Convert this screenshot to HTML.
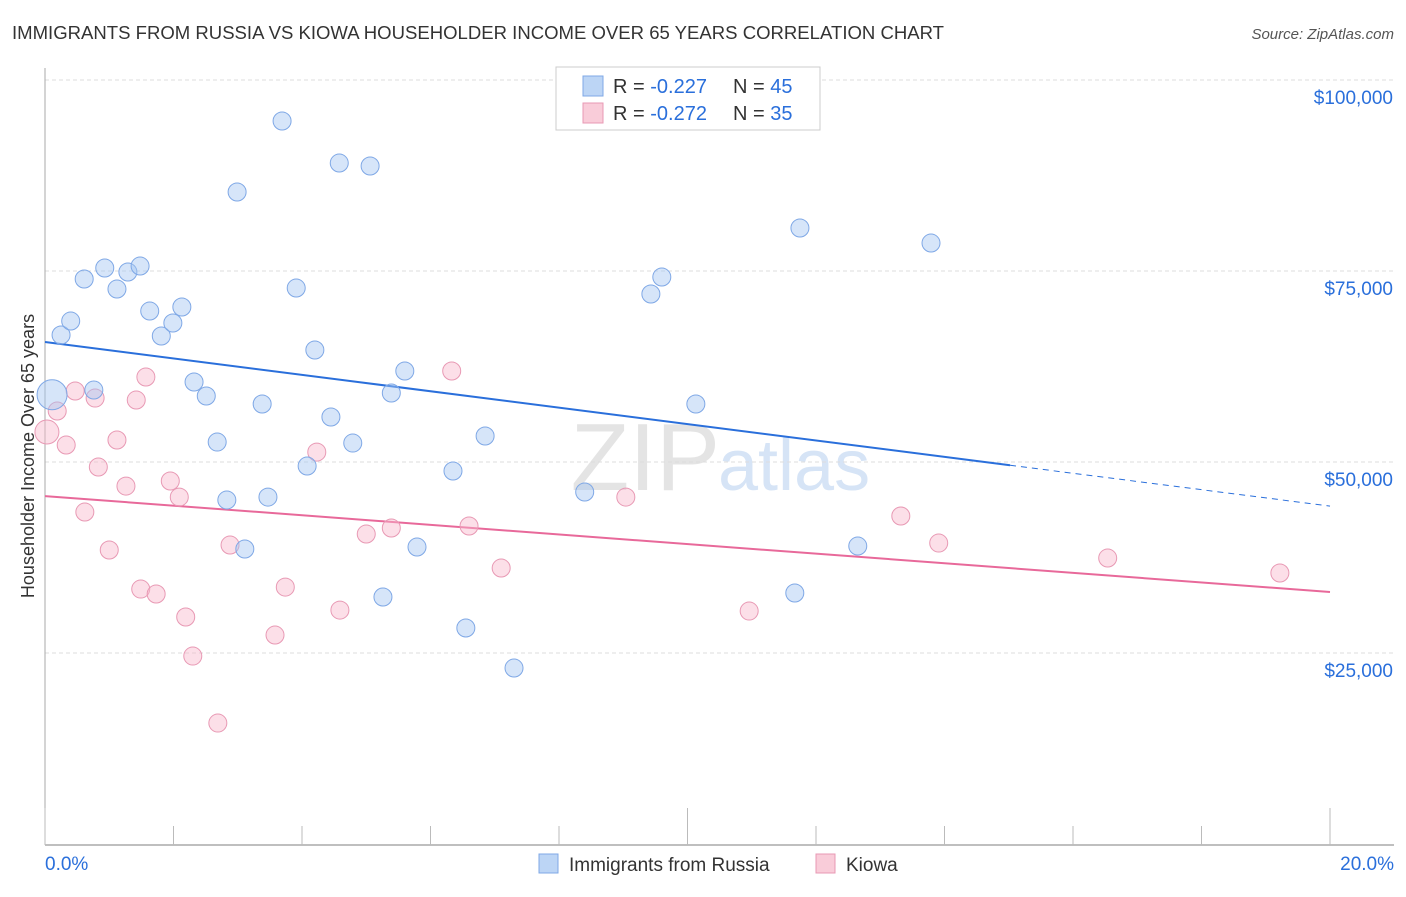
<!DOCTYPE html>
<html><head><meta charset="utf-8"><style>
body{margin:0;background:#fff;font-family:"Liberation Sans",sans-serif;}
svg text{font-family:"Liberation Sans",sans-serif;}
</style></head><body>
<svg id="chart" width="1406" height="892" viewBox="0 0 1406 892">
<text x="12" y="39" font-size="18" fill="#333" textLength="932" lengthAdjust="spacingAndGlyphs">IMMIGRANTS FROM RUSSIA VS KIOWA HOUSEHOLDER INCOME OVER 65 YEARS CORRELATION CHART</text>
<text x="1394" y="39" font-size="15" fill="#555" font-style="italic" text-anchor="end">Source: ZipAtlas.com</text>
<text x="720" y="490" font-size="96" fill="#e4e4e4" text-anchor="end" font-family="Liberation Serif">ZIP</text>
<text x="718" y="490" font-size="72" fill="#d6e4f6">atlas</text>
<text transform="translate(34,456) rotate(-90)" font-size="18" fill="#333" text-anchor="middle">Householder Income Over 65 years</text>
<g id="grid"></g><g id="axes"></g><g id="lines"></g><g id="pts"></g>
<g>
<rect x="556" y="67" width="264" height="63" fill="#fff" stroke="#ccc"/>
<rect x="583" y="76" width="20" height="20" fill="#bcd5f5" stroke="#7fa8e6"/>
<text x="613" y="93" font-size="20" fill="#333">R = <tspan fill="#2a6fdb">-0.227</tspan></text>
<text x="733" y="93" font-size="20" fill="#333">N = <tspan fill="#2a6fdb">45</tspan></text>
<rect x="583" y="103" width="20" height="20" fill="#f9ccd9" stroke="#e899b4"/>
<text x="613" y="120" font-size="20" fill="#333">R = <tspan fill="#2a6fdb">-0.272</tspan></text>
<text x="733" y="120" font-size="20" fill="#333">N = <tspan fill="#2a6fdb">35</tspan></text>
</g>
<g>
<rect x="539" y="854" width="19" height="19" fill="#bcd5f5" stroke="#7fa8e6"/>
<text x="569" y="871" font-size="19" fill="#333">Immigrants from Russia</text>
<rect x="816" y="854" width="19" height="19" fill="#f9ccd9" stroke="#e899b4"/>
<text x="846" y="871" font-size="19" fill="#333">Kiowa</text>
</g>
</svg>
<script>
const yTicks=[25000,50000,75000,100000];
const yTickLabels=["$25,000","$50,000","$75,000","$100,000"];
const xEndLabels=["0.0%","20.0%"];
const russiaX=[0.11,0.25,0.40,0.61,0.76,0.93,1.12,1.29,1.48,1.63,1.81,1.99,2.13,2.32,2.51,2.68,2.83,2.99,3.11,3.38,3.47,3.69,3.91,4.08,4.20,4.45,4.58,4.79,5.06,5.26,5.39,5.60,5.79,6.35,6.55,6.85,7.30,8.40,9.43,9.60,10.13,11.67,11.75,12.65,13.79];
const russiaY=[58800,66620,68450,73950,59420,75390,72640,74870,75650,69760,66490,68190,70290,60470,58640,52610,45020,85340,38610,57590,45410,94630,72770,49470,64660,55890,89130,52480,88740,32330,59030,61910,38870,48820,28270,53400,23030,46070,71990,74210,57590,32850,80630,39000,78660];
const kiowaX=[0.03,0.19,0.33,0.47,0.62,0.78,0.83,1.00,1.12,1.26,1.42,1.49,1.57,1.73,1.95,2.09,2.19,2.30,2.69,2.88,3.58,3.74,4.23,4.59,5.00,5.39,6.33,6.60,7.10,9.04,10.96,13.32,13.91,16.54,19.22];
const kiowaY=[53920,56670,52220,59290,43450,58370,49340,38480,52880,46850,58110,33370,61120,32720,47510,45410,29710,24600,15830,39130,27350,33630,51300,30620,40570,41360,61910,41620,36120,45410,30490,42930,39390,37430,35470];
const russiaTrend=[65700,44230];
const kiowaTrend=[45540,32980];
const russiaSolidEnd=15.02;
const NS="http://www.w3.org/2000/svg";
const X0=45,X1=1330,YTOP=80,YBOT=844;
function xs(p){return X0+(p/20)*(X1-X0);}
function ys(v){return YBOT-(v/100000)*(YBOT-YTOP);}
function mk(tag,attrs,parent){const e=document.createElementNS(NS,tag);for(const k in attrs)e.setAttribute(k,attrs[k]);parent.appendChild(e);return e;}
const grid=document.getElementById('grid'),axes=document.getElementById('axes'),lines=document.getElementById('lines'),pts=document.getElementById('pts');
yTicks.forEach((t,i)=>{
 const l=mk('line',{x1:X0,x2:1394,y1:ys(t),y2:ys(t),stroke:'#ddd','stroke-dasharray':'4,3'},grid);
 
 
 const tx=mk('text',{x:1393,y:ys(t)+24,'font-size':19,fill:'#2a6fdb','text-anchor':'end'},axes);
 tx.textContent=yTickLabels[i];
 
 
});
const ya=mk('line',{x1:X0,x2:X0,y1:68,y2:845,stroke:'#aaa'},axes);


const xa=mk('line',{x1:X0,x2:1394,y1:845,y2:845,stroke:'#aaa','stroke-width':1.5},axes);


for(let i=0;i<=10;i++){
 const x=xs(i*2);const top=(i==0||i==5||i==10)?808:826;
 const t=mk('line',{x1:x,x2:x,y1:top,y2:845,stroke:'#bbb'},axes);
 
 
}
[[0,'start',45],[20,'end',1394]].forEach((a,i)=>{
 const t=mk('text',{x:a[2],y:870,'font-size':19,fill:'#2a6fdb','text-anchor':a[1]},axes);
 t.textContent=xEndLabels[i];
 
 
});
function trendAt(tr,p){return tr[0]+(tr[1]-tr[0])*p/20;}
const b1=mk('line',{x1:xs(0),y1:ys(russiaTrend[0]),x2:xs(russiaSolidEnd),y2:ys(trendAt(russiaTrend,russiaSolidEnd)),stroke:'#2a6fdb','stroke-width':2},lines);


const b2=mk('line',{x1:xs(russiaSolidEnd),y1:ys(trendAt(russiaTrend,russiaSolidEnd)),x2:xs(20),y2:ys(russiaTrend[1]),stroke:'#2a6fdb','stroke-width':1,'stroke-dasharray':'6,5'},lines);


const k1=mk('line',{x1:xs(0),y1:ys(kiowaTrend[0]),x2:xs(20),y2:ys(kiowaTrend[1]),stroke:'#e8699a','stroke-width':2},lines);


kiowaX.forEach((x,i)=>{
 const c=mk('circle',{cx:xs(x),cy:ys(kiowaY[i]),r:i==0?12:9,fill:'rgba(248,185,205,0.45)',stroke:'#e899b4','stroke-width':1},pts);
 
 
});
russiaX.forEach((x,i)=>{
 const c=mk('circle',{cx:xs(x),cy:ys(russiaY[i]),r:i==0?15:9,fill:'rgba(165,198,242,0.45)',stroke:'#7fa8e6','stroke-width':1},pts);
 
 
});
</script>
</body></html>
